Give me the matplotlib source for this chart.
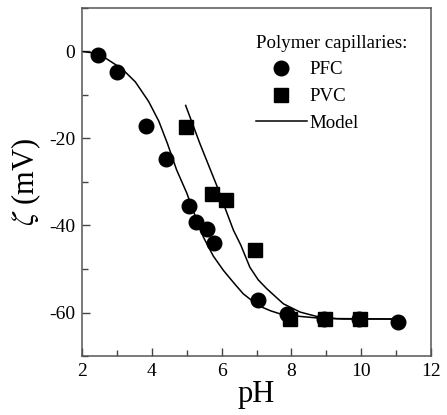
import matplotlib
matplotlib.use("Agg")
import matplotlib.pyplot as plt
from matplotlib.ticker import MultipleLocator

plt.rcParams['font.family'] = ['Liberation Serif', 'DejaVu Serif']
plt.rcParams['mathtext.fontset'] = 'stix'
plt.rcParams['axes.unicode_minus'] = False

# PFC data (circles)
pfc_ph = [2.45, 3.01, 3.83, 4.40, 5.07, 5.27, 5.59, 5.77, 7.04, 7.86, 8.93, 9.95, 11.06]
pfc_zeta = [-0.9, -4.6, -17.2, -24.8, -35.6, -39.3, -40.8, -44.1, -57.1, -60.3, -61.5, -61.5, -62.2]

# PVC data (squares)
pvc_ph = [4.98, 5.73, 6.13, 6.96, 7.96, 8.95, 9.96]
pvc_zeta = [-17.4, -32.7, -34.1, -45.6, -61.5, -61.5, -61.5]

# Model curves
model_pfc_ph = [2.0, 2.3, 2.67, 3.15, 3.53, 3.91, 4.2, 4.45, 4.71, 5.0, 5.25, 5.48,
                5.76, 6.05, 6.35, 6.62, 7.05, 7.4, 7.67, 8.25, 8.8, 9.5, 11.0]
model_pfc_zeta = [0.0, -0.3, -1.5, -4.0, -7.0, -11.5, -16.0, -21.2, -27.2, -32.5, -38.0, -42.7,
                  -47.0, -50.3, -53.2, -55.7, -58.4, -59.6, -60.3, -60.9, -61.3, -61.5, -61.5]
model_pvc_ph = [4.97, 5.38, 5.86, 6.10, 6.34, 6.55, 6.81, 7.05, 7.29, 7.77, 8.25, 8.72, 9.3, 11.0]
model_pvc_zeta = [-12.4, -21.2, -30.8, -36.0, -41.1, -44.5, -49.6, -52.5, -54.5, -58.0,
                  -59.9, -60.9, -61.4, -61.5]

x_ticks = [2, 4, 6, 8, 10, 12]
y_ticks = [-60, -40, -20, 0]

fig = plt.figure(figsize=(4.47, 4.15), dpi=100)
ax = fig.add_axes([82/447, 1-356/415, (431-82)/447, (356-8)/415])

ax.plot(model_pfc_ph, model_pfc_zeta, color='black', lw=1.1, label='Model', zorder=2)
ax.plot(model_pvc_ph, model_pvc_zeta, color='black', lw=1.1, zorder=2)
ax.plot(pfc_ph, pfc_zeta, 'o', color='black', ms=10.5, ls='none', label='PFC', zorder=3)
ax.plot(pvc_ph, pvc_zeta, 's', color='black', ms=9.5, ls='none', label='PVC', zorder=3)

ax.set_xlim(2, 12)
ax.set_ylim(-70, 10)
ax.set_xticks(x_ticks)
ax.set_yticks(y_ticks)
ax.xaxis.set_minor_locator(MultipleLocator(1))
ax.yaxis.set_minor_locator(MultipleLocator(10))
ax.tick_params(which='both', direction='in', top=False, right=False, labelsize=14,
               color='#444444', width=1.0)
ax.tick_params(which='major', length=6, pad=5)
ax.tick_params(which='minor', length=4)
for s in ax.spines.values():
    s.set_color('#555555')
    s.set_linewidth(1.1)

ax.set_xlabel('pH', fontsize=22, labelpad=0)
ax.set_ylabel(r'$\zeta$ (mV)', fontsize=22, labelpad=4)

h, l = ax.get_legend_handles_labels()
order = [1, 2, 0]
leg = ax.legend([h[i] for i in order], [l[i] for i in order], title='Polymer capillaries:',
                frameon=False, fontsize=13.6, title_fontsize=13.6, loc='upper right',
                bbox_to_anchor=(0.969, 0.961), handlelength=2.7, handletextpad=0.15,
                labelspacing=0.5, borderpad=0.2)
leg._legend_box.align = 'left'

fig.savefig('out.png', dpi=100)
